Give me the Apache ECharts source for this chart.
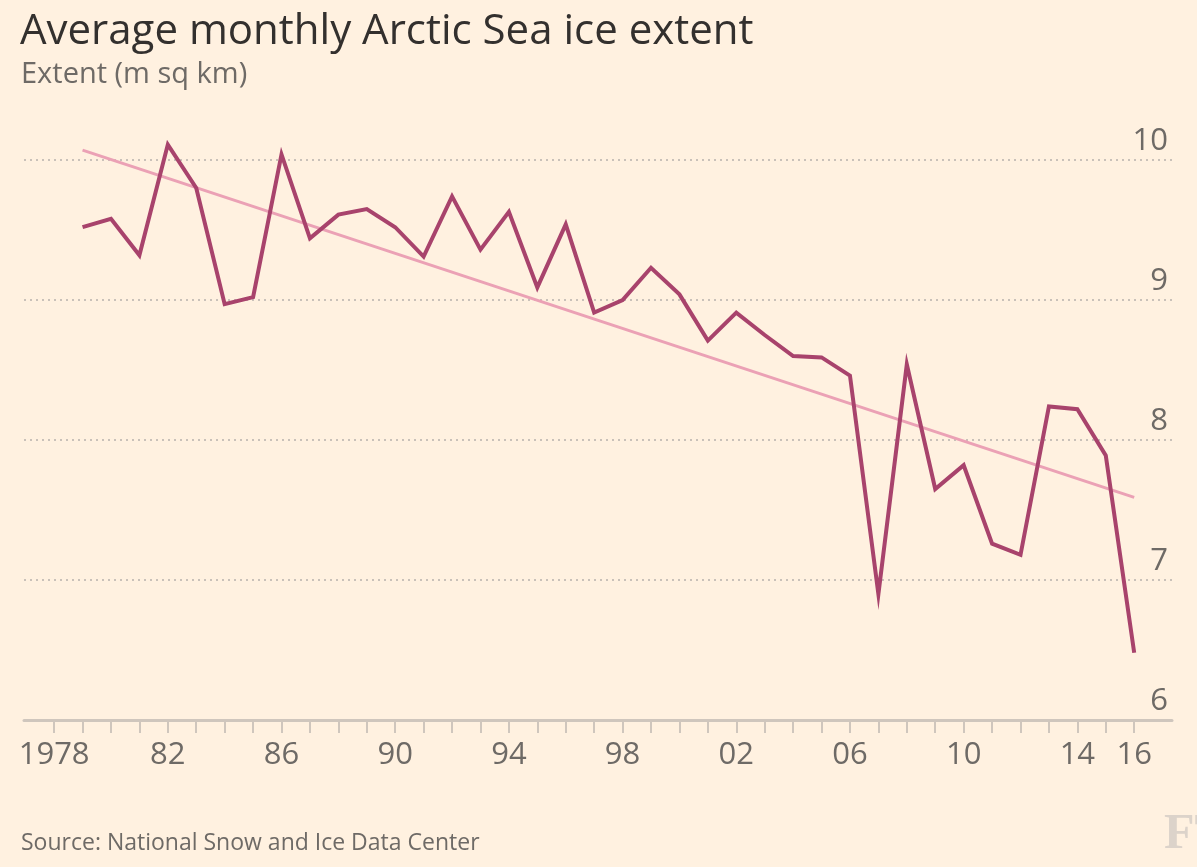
<!DOCTYPE html>
<html>
<head>
<meta charset="utf-8">
<script src="https://cdn.jsdelivr.net/npm/echarts@6/dist/echarts.min.js"></script>
<style>
  html, body { margin: 0; padding: 0; background: #fff1e0; }
  #chart { width: 1197px; height: 867px; }
</style>
</head>
<body>
<div id="chart"></div>
<script>
// ---- data ----
const years = [1979, 1980, 1981, 1982, 1983, 1984, 1985, 1986, 1987, 1988, 1989, 1990,
  1991, 1992, 1993, 1994, 1995, 1996, 1997, 1998, 1999, 2000, 2001, 2002, 2003, 2004,
  2005, 2006, 2007, 2008, 2009, 2010, 2011, 2012, 2013, 2014, 2015, 2016];
const extent = [9.52, 9.58, 9.32, 10.11, 9.80, 8.97, 9.02, 10.04, 9.44, 9.61, 9.65, 9.52,
  9.31, 9.74, 9.36, 9.63, 9.09, 9.54, 8.91, 9.00, 9.23, 9.04, 8.71, 8.91, 8.75, 8.60,
  8.59, 8.46, 6.90, 8.54, 7.65, 7.82, 7.26, 7.18, 8.24, 8.22, 7.89, 6.48];
const trendYears = [1979, 2016];
const trendValues = [10.07, 7.59];
const tickYears = [1978, 1979, 1980, 1981, 1982, 1983, 1984, 1985, 1986, 1987, 1988, 1989,
  1990, 1991, 1992, 1993, 1994, 1995, 1996, 1997, 1998, 1999, 2000, 2001, 2002, 2003,
  2004, 2005, 2006, 2007, 2008, 2009, 2010, 2011, 2012, 2013, 2014, 2015, 2016];
const labelYears = [1978, 1982, 1986, 1990, 1994, 1998, 2002, 2006, 2010, 2014, 2016];
const titleText = 'Average monthly Arctic Sea ice extent';
const subtitleText = 'Extent (m sq km)';
const sourceText = 'Source: National Snow and Ice Data Center';

const chart = echarts.init(document.getElementById('chart'), null, { renderer: 'canvas' });
const FONT = '"Open Sans", sans-serif';
const option = {
  backgroundColor: '#fff1e0',
  animation: false,
  title: [
    { text: titleText, left: 20, top: 11, padding: 0,
      textStyle: { fontFamily: FONT, fontSize: 42, fontWeight: 'normal', color: '#33302e' } },
    { text: subtitleText, left: 21, top: 60, padding: 0,
      textStyle: { fontFamily: FONT, fontSize: 29, fontWeight: 'normal', color: '#6e6a66' } },
    { text: sourceText, left: 21, top: 832, padding: 0,
      textStyle: { fontFamily: FONT, fontSize: 23, fontWeight: 'normal', color: '#6e6a66' } },
    { text: 'FT', left: 1164, top: 810, padding: 0,
      textStyle: { fontFamily: '"Liberation Serif", serif', fontSize: 50, fontWeight: 'bold', color: '#dcd3ca' } }
  ],
  grid: { left: 24, right: 25, top: 160, bottom: 147, containLabel: false },
  xAxis: {
    type: 'value',
    min: 1976.94,
    max: 2017.33,
    axisLine: { show: true, lineStyle: { color: '#cfc6bd', width: 3 } },
    axisTick: { show: true, customValues: tickYears, length: 13,
      lineStyle: { color: '#cfc6bd', width: 2 } },
    axisLabel: {
      customValues: labelYears,
      fontFamily: FONT, fontSize: 31, color: '#6e6a66', margin: 20,
      formatter: v => (v === 1978 ? '1978' : String(v).slice(2))
    },
    splitLine: { show: false }
  },
  yAxis: {
    type: 'value',
    position: 'right',
    min: 6, max: 10, interval: 1,
    axisLine: { show: false },
    axisTick: { show: false },
    axisLabel: {
      inside: true, align: 'right', verticalAlign: 'bottom',
      margin: 4, padding: [0, 0, 3, 0],
      fontFamily: FONT, fontSize: 31, color: '#6e6a66'
    },
    splitLine: { show: true, lineStyle: { color: '#c9c1b9', width: 2, type: [2, 4] } }
  },
  series: [
    {
      type: 'line', name: 'trend',
      data: trendYears.map((y, i) => [y, trendValues[i]]),
      symbol: 'none', clip: false,
      lineStyle: { color: '#eba1b5', width: 3 },
      z: 2
    },
    {
      type: 'line', name: 'extent',
      data: years.map((y, i) => [y, extent[i]]),
      symbol: 'none', clip: false,
      lineStyle: { color: '#a8436c', width: 4, join: 'miter' },
      z: 3
    }
  ]
};
chart.setOption(option);
</script>
</body>
</html>
